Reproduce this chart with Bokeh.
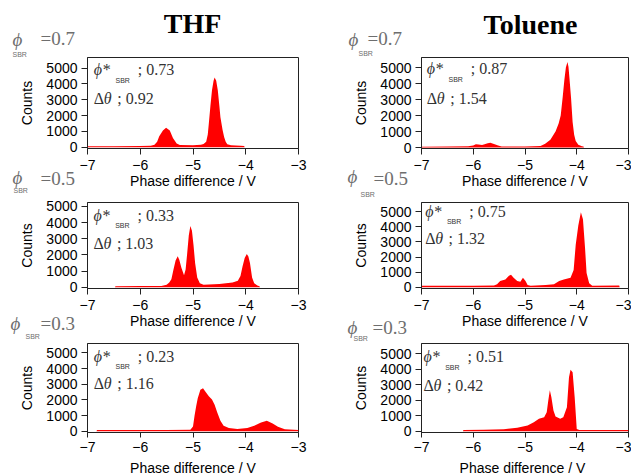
from bokeh.plotting import figure
from bokeh.models import Range1d, FixedTicker, Label, GridBox
from bokeh.layouts import column, row
from bokeh.embed import file_html
from bokeh.resources import INLINE

# ---------------- data ----------------
x_ticks = [-7, -6, -5, -4, -3]
y_ticks = [0, 1000, 2000, 3000, 4000, 5000]
solvents = ["THF", "Toluene"]
phi_sbr = ["0.7", "0.5", "0.3"]

# order: THF 0.7, Toluene 0.7, THF 0.5, Toluene 0.5, THF 0.3, Toluene 0.3
phi_star = ["0.73", "0.87", "0.33", "0.75", "0.23", "0.51"]
delta_theta = ["0.92", "1.54", "1.03", "1.32", "1.16", "0.42"]

thf07_x = [-7.00, -6.50, -6.00, -5.80, -5.73, -5.68, -5.64, -5.57, -5.51, -5.44, -5.38, -5.31,
           -5.25, -5.00, -4.85, -4.80, -4.75, -4.72, -4.70, -4.67, -4.64, -4.61, -4.59, -4.56,
           -4.53, -4.50, -4.48, -4.44, -4.41, -4.38, -4.35, -4.28, -4.10, -4.03, -4.02]
thf07_counts = [60, 65, 75, 90, 160, 350, 690, 1060, 1230, 1060, 580, 230,
                140, 130, 160, 200, 350, 800, 1500, 2600, 3600, 4200, 4400, 4200,
                3600, 2600, 1900, 1100, 650, 350, 180, 120, 90, 80, 0]

tol07_x = [-7.00, -6.50, -6.10, -6.00, -5.95, -5.90, -5.83, -5.78, -5.72, -5.67, -5.60, -5.52,
           -5.45, -5.00, -4.70, -4.61, -4.51, -4.41, -4.35, -4.31, -4.27, -4.24, -4.21, -4.18,
           -4.16, -4.14, -4.11, -4.08, -4.05, -4.02, -3.97, -3.90, -3.87, -3.86]
tol07_counts = [50, 60, 80, 130, 200, 190, 160, 200, 270, 290, 220, 120,
                70, 60, 90, 230, 480, 1000, 1500, 2000, 3200, 4200, 5000, 5350,
                5050, 4300, 3100, 1600, 800, 400, 170, 80, 60, 0]

thf05_x = [-6.48, -6.47, -6.00, -5.60, -5.50, -5.45, -5.41, -5.37, -5.33, -5.29, -5.26, -5.22,
           -5.17, -5.14, -5.11, -5.08, -5.05, -5.02, -4.99, -4.96, -4.92, -4.87, -4.80, -4.50,
           -4.25, -4.15, -4.10, -4.06, -4.02, -3.98, -3.95, -3.92, -3.88, -3.84, -3.78, -3.74, -3.73]
thf05_counts = [0, 60, 70, 80, 150, 300, 500, 1100, 1650, 1920, 1700, 1200,
                740, 1100, 2100, 3200, 3780, 3500, 2600, 1500, 600, 250, 150, 200,
                290, 400, 700, 1300, 1800, 2050, 1900, 1500, 600, 250, 100, 60, 0]

tol05_x = [-7.00, -6.00, -5.60, -5.54, -5.48, -5.38, -5.31, -5.27, -5.22, -5.15, -5.09, -5.04,
           -4.99, -4.95, -4.89, -4.60, -4.44, -4.34, -4.25, -4.12, -4.06, -4.02, -3.97, -3.92,
           -3.88, -3.84, -3.81, -3.76, -3.70, -3.18, -3.17]
tol05_counts = [100, 100, 110, 200, 420, 520, 770, 830, 630, 420, 360, 630,
                420, 150, 100, 150, 200, 420, 520, 630, 1150, 2820, 4080, 4960,
                4500, 2620, 940, 270, 100, 120, 0]

thf03_x = [-6.83, -6.82, -6.00, -5.50, -5.05, -5.00, -4.97, -4.94, -4.91, -4.86, -4.81, -4.77,
           -4.70, -4.64, -4.59, -4.54, -4.48, -4.42, -4.32, -4.16, -3.97, -3.84, -3.71, -3.60,
           -3.49, -3.39, -3.26, -3.00]
thf03_counts = [0, 80, 80, 80, 90, 300, 1000, 1600, 2100, 2650, 2750, 2550,
                2230, 2020, 1700, 1190, 670, 350, 210, 150, 210, 350, 560, 670,
                500, 290, 125, 80]

tol03_x = [-6.20, -6.19, -5.80, -5.41, -5.15, -4.95, -4.83, -4.73, -4.63, -4.58, -4.55, -4.52,
           -4.49, -4.45, -4.41, -4.32, -4.26, -4.19, -4.15, -4.12, -4.08, -4.04, -4.00, -3.95, -3.00]
tol03_counts = [0, 85, 100, 130, 215, 370, 580, 800, 900, 1230, 1980, 2650,
                2200, 1340, 950, 800, 900, 1550, 3490, 3970, 3810, 2200, 150, 85, 85]

series = [(thf07_x, thf07_counts), (tol07_x, tol07_counts),
          (thf05_x, thf05_counts), (tol05_x, tol05_counts),
          (thf03_x, thf03_counts), (tol03_x, tol03_counts)]

# ---------------- layout / style ----------------
SANS = "Liberation Sans"
SERIF = "Liberation Serif"
RED = "#ff0000"
INK = "#333333"
GREY = "#6e6e6e"
PHI = "\u03d5"

TOTAL_W, TOTAL_H = 631, 474
COLS = [dict(page_x=0, width=318, b_left=87, b_right=20, x_end=-3.0),
        dict(page_x=318, width=313, b_left=103, b_right=3, x_end=-3.0)]
ROWS = [dict(page_y=0, height=196), dict(page_y=196, height=142), dict(page_y=338, height=136)]
# (top border, bottom border, y_start, y_end) per panel
FRAME = [(56, 48, -81, 5669), (57, 48, -62, 5625),
         (6, 47, -78, 5239), (1, 50, -81, 5606),
         (3, 42, -81, 5606), (5, 42, -84, 5665)]
# inner annotation anchors (page x of phi, line-1 y, line-2 y)
INNER = [(93.3, 68.5, 97.5), (426.3, 68.3, 97.5),
         (93.0, 215.5, 244.0), (424.7, 207.0, 235.0),
         (93.3, 354.0, 382.0), (423.0, 356.0, 385.0)]
# outer phi_SBR labels (page coords): phi, SBR, value
OUTER = [((12, 38.5), (12, 53.5), (40, 38)), ((348, 38.5), (358, 52.5), (367, 38)),
         ((12, 176.5), (13, 189.5), (40, 178)), ((347, 175.5), (360, 193.5), (373, 177.5)),
         ((10, 322.5), (25, 335.5), (40, 323)), ((347, 326.5), (353, 337.5), (372, 327))]


def put(p, g, px, py, text, size, font=SERIF, style="normal", color=INK,
        align="left", baseline="middle"):
    x = g["x0"] + (px - g["fl"]) / g["fw"] * (g["x1"] - g["x0"])
    y = g["y1"] - (py - g["ft"]) / g["fh"] * (g["y1"] - g["y0"])
    p.add_layout(Label(x=x, y=y, text=text, text_font=font, text_font_size=f"{size}px",
                       text_font_style=style, text_color=color, text_align=align,
                       text_baseline=baseline))


figs, geoms = [], []
for i, (xs, ys) in enumerate(series):
    r, c = divmod(i, 2)
    col, rw = COLS[c], ROWS[r]
    bt, bb, y0, y1 = FRAME[i]
    p = figure(width=col["width"], height=rw["height"],
               x_range=Range1d(-7, col["x_end"]), y_range=Range1d(y0, y1),
               output_backend="svg", toolbar_location=None,
               min_border_left=col["b_left"], min_border_right=col["b_right"],
               min_border_top=bt, min_border_bottom=bb)
    p.title.visible = False
    p.varea(x=xs, y1=0, y2=ys, fill_color=RED, fill_alpha=1.0)
    p.grid.visible = False
    p.background_fill_color = "white"
    p.border_fill_color = "white"
    p.outline_line_color = "#222222"
    p.outline_line_width = 1
    for ax in (p.xaxis[0], p.yaxis[0]):
        ax.axis_line_color = "#222222"
        ax.major_tick_line_color = "#222222"
        ax.major_tick_in = 0
        ax.major_tick_out = 6
        ax.minor_tick_line_color = None
        ax.major_label_text_font = SANS
        ax.major_label_text_font_size = "14px"
        ax.major_label_text_color = "black"
        ax.axis_label_text_font = SANS
        ax.axis_label_text_font_size = "14px"
        ax.axis_label_text_font_style = "normal"
        ax.axis_label_text_color = "black"
    p.xaxis.ticker = FixedTicker(ticks=x_ticks)
    p.yaxis.ticker = FixedTicker(ticks=y_ticks)
    p.xaxis.major_label_standoff = 5
    p.yaxis.major_label_standoff = 4
    p.yaxis.axis_label = "Counts"
    p.yaxis.axis_label_standoff = 8
    if r < 2:
        p.xaxis.axis_label = "Phase difference / V"
        p.xaxis.axis_label_standoff = 0
    else:
        p.xaxis.major_tick_out = 5
        p.xaxis.major_label_standoff = 4
    g = dict(fl=col["page_x"] + col["b_left"], fw=col["width"] - col["b_left"] - col["b_right"],
             ft=rw["page_y"] + bt, fh=rw["height"] - bt - bb,
             x0=-7, x1=col["x_end"], y0=y0, y1=y1)
    figs.append(p)
    geoms.append(g)

# inner annotations (inside each frame)
for i in range(6):
    p, g = figs[i], geoms[i]
    x0, ya, yb = INNER[i]
    put(p, g, x0, ya, PHI + "*", 16, style="italic")
    put(p, g, x0 + 21.7, ya + 10.5, "SBR", 7, font=SANS)
    put(p, g, x0 + 44.0, ya, "; " + phi_star[i], 16)
    put(p, g, x0, yb, "\u0394", 16)
    put(p, g, x0 + 10.0, yb, "\u03b8", 16, style="italic")
    put(p, g, x0 + 23.4, yb, "; " + delta_theta[i], 16)

# transparent overlay figure covering the whole chart, for texts outside the frames
ov = figure(width=TOTAL_W, height=TOTAL_H, x_range=Range1d(0, TOTAL_W), y_range=Range1d(TOTAL_H, 0),
            output_backend="svg", toolbar_location=None, x_axis_type=None, y_axis_type=None,
            min_border_left=0, min_border_right=0, min_border_top=0, min_border_bottom=0)
ov.title.visible = False
ov.background_fill_color = None
ov.border_fill_color = None
ov.outline_line_color = None
gov = dict(fl=0, fw=TOTAL_W, ft=0, fh=TOTAL_H, x0=0, x1=TOTAL_W, y0=TOTAL_H, y1=0)

for k, (pp, sp, vp) in enumerate(OUTER):
    put(ov, gov, pp[0], pp[1], PHI, 19, style="italic", color=GREY)
    put(ov, gov, sp[0], sp[1], "SBR", 7, font=SANS, color=GREY)
    put(ov, gov, vp[0], vp[1], "=" + phi_sbr[k // 2], 19, color=GREY)

put(ov, gov, 192, 23, solvents[0], 28, style="bold", color="black", align="center")
put(ov, gov, 530, 24, solvents[1], 28, style="bold", color="black", align="center")

# bottom-row x axis titles
for cx in (192.5, 522.0):
    put(ov, gov, cx, 467.5, "Phase difference / V", 14, font=SANS, color="black",
        align="center", baseline="alphabetic")

panels = column(row(figs[0], figs[1]), row(figs[2], figs[3]), row(figs[4], figs[5]))
grid = GridBox(children=[(panels, 0, 0), (ov, 0, 0)], spacing=0)

open("out.html", "w").write(file_html(grid, INLINE))
